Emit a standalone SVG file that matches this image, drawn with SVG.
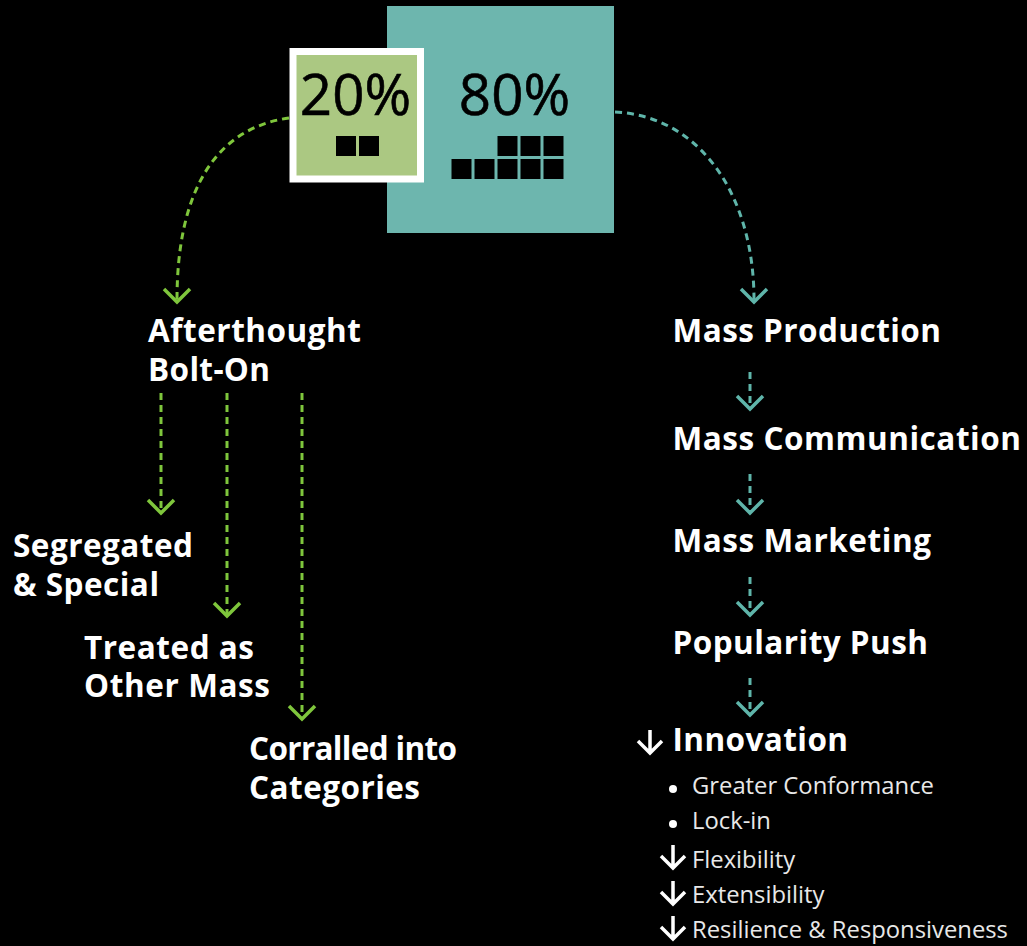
<svg xmlns="http://www.w3.org/2000/svg" width="1027" height="946" viewBox="0 0 1027 946">
<style>
text{font-family:"Open Sans","Noto Sans","Liberation Sans",sans-serif;fill:#fff}
.h{font-size:31.500px;font-weight:700}
.s{font-size:23.800px;font-weight:400;fill:#e8e8e8}
.p{font-size:56.500px;font-weight:500;fill:#000;stroke:#000;stroke-width:.6px}
.g{fill:none;stroke:#7fc63c;stroke-width:3;stroke-dasharray:7 5}
.t{fill:none;stroke:#5fb5aa;stroke-width:3;stroke-dasharray:7 5}
.ga{fill:none;stroke:#7fc63c;stroke-width:3.500}
.ta{fill:none;stroke:#5fb5aa;stroke-width:3.500}
.wa{fill:none;stroke:#fff;stroke-width:3.500}
.k{fill:#000}
</style>
<defs>
<path id="chev" d="M-13 -13L0 0L13 -13"/>
<path id="down" d="M0 -23V0M-12 -12L0 0L12 -12"/>
<rect id="sq" width="20" height="20"/>
</defs>
<rect width="1027" height="946" fill="#000"/>
<g id="connectors">
<path class="g" d="M289 118C216 128 177 190 177 300"/>
<use href="#chev" x="177" y="302" class="ga"/>
<path class="t" d="M615 112C700 116 754 195 754 300"/>
<use href="#chev" x="754" y="302" class="ta"/>
<path class="g" d="M161 393V511"/><use href="#chev" x="161" y="513" class="ga"/>
<path class="g" d="M227 393V614"/><use href="#chev" x="227" y="616" class="ga"/>
<path class="g" d="M302 393V717"/><use href="#chev" x="302" y="719" class="ga"/>
<path class="t" d="M750 372V407"/><use href="#chev" x="750" y="409" class="ta"/>
<path class="t" d="M750 474V511"/><use href="#chev" x="750" y="513" class="ta"/>
<path class="t" d="M750 577V613"/><use href="#chev" x="750" y="615" class="ta"/>
<path class="t" d="M750 678V713"/><use href="#chev" x="750" y="715" class="ta"/>
</g>
<g id="node-80">
<rect x="387" y="6" width="227" height="227" fill="#6db6ae"/>
<text class="p" x="514.500" y="115" text-anchor="middle">80%</text>
<g class="k">
<use href="#sq" x="497.500" y="136"/><use href="#sq" x="520.500" y="136"/><use href="#sq" x="543.500" y="136"/>
<use href="#sq" x="451.500" y="159"/><use href="#sq" x="474.500" y="159"/><use href="#sq" x="497.500" y="159"/><use href="#sq" x="520.500" y="159"/><use href="#sq" x="543.500" y="159"/>
</g>
</g>
<g id="node-20">
<rect x="293" y="51.500" width="127.500" height="127.500" fill="#abc882" stroke="#fff" stroke-width="7"/>
<text class="p" x="355.500" y="115" text-anchor="middle">20%</text>
<g class="k"><use href="#sq" x="336" y="136"/><use href="#sq" x="359" y="136"/></g>
</g>
<g id="node-afterthought"><text class="h" x="148" y="342" textLength="213">Afterthought</text><text class="h" x="148" y="381" textLength="122">Bolt-On</text></g>
<g id="node-segregated"><text class="h" x="13" y="557" textLength="180">Segregated</text><text class="h" x="13" y="596" textLength="146">&amp; Special</text></g>
<g id="node-treated"><text class="h" x="84" y="659" textLength="170">Treated as</text><text class="h" x="84" y="697" textLength="186">Other Mass</text></g>
<g id="node-corralled"><text class="h" x="249" y="760" textLength="208">Corralled into</text><text class="h" x="249" y="799" textLength="171">Categories</text></g>
<g id="node-production"><text class="h" x="672.500" y="342" textLength="268.500">Mass Production</text></g>
<g id="node-communication"><text class="h" x="672.500" y="450" textLength="348.500">Mass Communication</text></g>
<g id="node-marketing"><text class="h" x="672.500" y="552" textLength="258.500">Mass Marketing</text></g>
<g id="node-popularity"><text class="h" x="672.500" y="654" textLength="255.500">Popularity Push</text></g>
<g id="node-innovation">
<use href="#down" x="650" y="753" class="wa"/>
<text class="h" x="672.500" y="751" textLength="175.500">Innovation</text>
<circle cx="673" cy="789" r="4" fill="#fff"/>
<text class="s" x="692" y="794">Greater Conformance</text>
<circle cx="673" cy="824" r="4" fill="#fff"/>
<text class="s" x="692" y="829">Lock-in</text>
<use href="#down" x="673" y="868" class="wa"/>
<text class="s" x="692" y="868">Flexibility</text>
<use href="#down" x="673" y="904" class="wa"/>
<text class="s" x="692" y="903">Extensibility</text>
<use href="#down" x="673" y="939" class="wa"/>
<text class="s" x="692" y="938">Resilience &amp; Responsiveness</text>
</g>
</svg>
